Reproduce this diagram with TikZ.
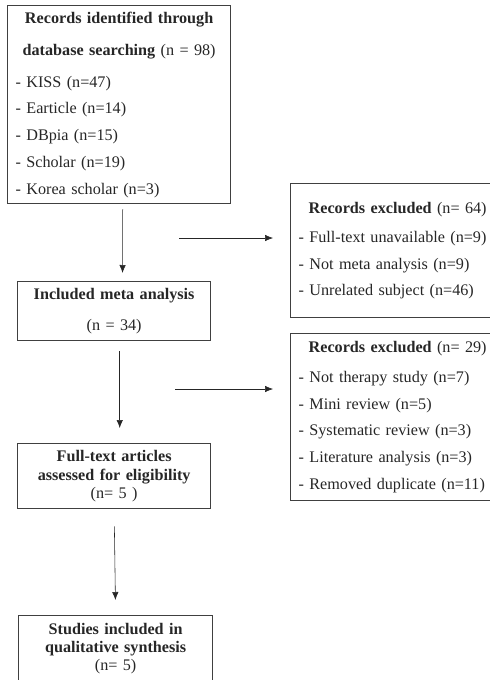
\documentclass[tikz,border=0pt]{standalone}
\usepackage{fontspec}
\setmainfont{Liberation Serif}
\usetikzlibrary{arrows.meta}
\begin{document}
\begin{tikzpicture}[
  >={Latex[length=2mm,width=1.6mm]},
  flowbox/.style={rectangle, draw=black!75, line width=0.9pt, anchor=north west, inner xsep=2mm, text=black!85, align=center, font=\fontsize{11.5}{13}\selectfont},
  listbox/.style={flowbox, align=left, font=\fontsize{11.5}{19}\selectfont},
]

\useasboundingbox (0,0) rectangle (12.25,-17);
\clip (0,0) rectangle (12.25,-17);

\node[listbox, minimum width=5.575cm, minimum height=4.95cm, text width=5.175cm] (records) at (0.175,-0.125)
  {{\centering\textbf{Records identified through}\\[4pt]\textbf{database searching} (n = 98)\par}
   \vspace{3.5pt}- KISS (n=47)\\ - Earticle (n=14)\\ - DBpia (n=15)\\ - Scholar (n=19)\\ - Korea scholar (n=3)};

\node[flowbox, minimum width=4.825cm, minimum height=1.475cm, text width=4.425cm] (meta) at (0.425,-7.025)
  {\textbf{Included meta analysis}\\[9pt](n = 34)};
\node[flowbox, minimum width=4.825cm, minimum height=1.625cm, text width=4.425cm] (fulltext) at (0.425,-11.075)
  {\textbf{Full-text articles}\\\textbf{assessed for eligibility}\\(n= 5 )};
\node[flowbox, minimum width=4.85cm, minimum height=1.65cm, text width=4.45cm] (studies) at (0.45,-15.375)
  {\textbf{Studies included in}\\\textbf{qualitative synthesis}\\(n= 5)};

\node[listbox, minimum width=5.35cm, minimum height=3.35cm, text width=4.95cm] (excl1) at (7.25,-4.575)
  {{\centering\textbf{Records excluded} (n= 64)\par}
   \vspace{2pt}- Full-text unavailable (n=9)\\ - Not meta analysis (n=9)\\ - Unrelated subject (n=46)};
\node[listbox, minimum width=5.35cm, minimum height=4.175cm, text width=4.95cm] (excl2) at (7.25,-8.325)
  {{\centering\textbf{Records excluded} (n= 29)\par}
   \vspace{2pt}- Not therapy study (n=7)\\ - Mini review (n=5)\\ - Systematic review (n=3)\\ - Literature analysis (n=3)\\ - Removed duplicate (n=11)};

\coordinate (split1) at (4.475,-5.95);
\coordinate (split2) at (4.375,-9.725);

\draw[->, black!85, shorten <=1.25mm, shorten >=2mm] ([xshift=0.9mm]records.south) -- ([xshift=2.1mm]meta.north);
\draw[->, black!85, shorten <=2.5mm, shorten >=3.75mm] ([xshift=1.4mm]meta.south) -- ([xshift=1.4mm]fulltext.north);
\draw[->, black!85, shorten <=4.25mm, shorten >=3.75mm] (fulltext.south) -- (studies.north);

\draw[->, black!85, shorten >=4.25mm] (split1) -- (split1 -| excl1.west);
\draw[->, black!85, shorten >=4.25mm] (split2) -- (split2 -| excl2.west);

\end{tikzpicture}
\end{document}
